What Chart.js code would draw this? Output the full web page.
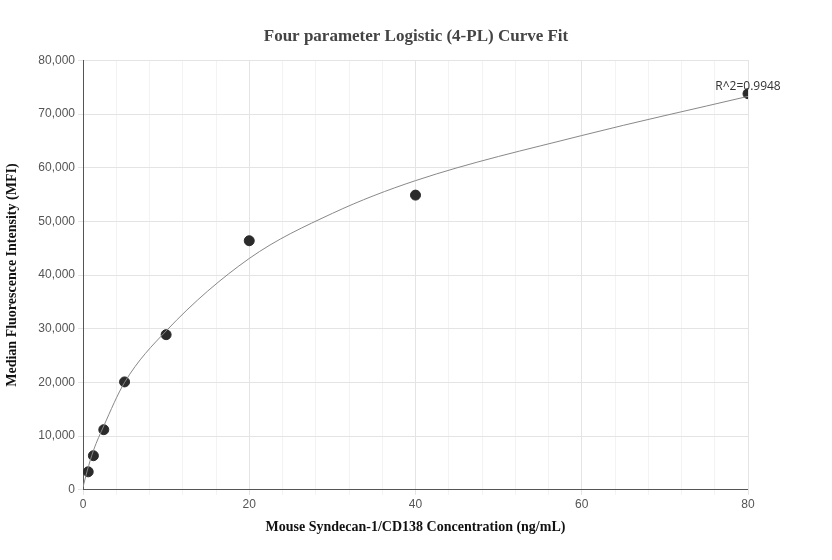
<!DOCTYPE html>
<html>
<head>
<meta charset="utf-8">
<script src="https://cdn.jsdelivr.net/npm/chart.js@4"></script>
<style>
  body { margin: 0; background: #fff; }
  #wrap { width: 832px; height: 560px; }
</style>
</head>
<body>
<div id="wrap"><canvas id="grafico"></canvas></div>
<script>
// pontos medidos
const concentracoes = [0.625, 1.25, 2.5, 5, 10, 20, 40, 80];
const mfi = [3350, 6350, 11200, 20100, 28900, 46400, 54900, 73800];

// curva ajustada
const curvaX = [0, 0.5, 1.25, 2.5, 5, 10, 20, 30, 40, 60, 80];
const curvaY = [500, 3500, 7300, 11900, 20000, 29600, 43100, 51500, 57600, 66000, 73300];

const rQuadrado = "R^2=0.9948";

const pontos = concentracoes.map((x, i) => ({ x, y: mfi[i] }));
const curva = curvaX.map((x, i) => ({ x, y: curvaY[i] }));

// escreve o R^2 perto do último ponto
const textoR2 = {
  id: "textoR2",
  afterDatasetsDraw(chart) {
    const { ctx, scales } = chart;
    const last = pontos[pontos.length - 1];
    ctx.save();
    ctx.font = "12px 'Open Sans', sans-serif";
    ctx.fillStyle = "#333";
    ctx.textAlign = "center";
    ctx.fillText(rQuadrado, scales.x.getPixelForValue(last.x), scales.y.getPixelForValue(last.y) - 4);
    ctx.restore();
  }
};

new Chart(document.getElementById("grafico").getContext("2d"), {
  type: "scatter",
  data: {
    datasets: [
      {
        data: curva,
        showLine: true,
        borderColor: "#888",
        borderWidth: 1,
        pointRadius: 0,
        tension: 0.4,
        cubicInterpolationMode: "monotone"
      },
      {
        data: pontos,
        backgroundColor: "#2b2b2b",
        borderColor: "#2b2b2b",
        pointRadius: 5
      }
    ]
  },
  options: {
    responsive: true,
    maintainAspectRatio: false,
    animation: false,
    layout: { padding: { top: 14, right: 0, left: 0, bottom: 20 } },
    plugins: {
      legend: { display: false },
      tooltip: { enabled: false },
      title: {
        display: true,
        text: "Four parameter Logistic (4-PL) Curve Fit",
        color: "#444",
        font: { family: "'Liberation Serif', serif", size: 17, weight: "bold" },
        padding: { top: 12, bottom: 14 }
      }
    },
    scales: {
      x: {
        type: "linear",
        min: 0,
        max: 80,
        ticks: {
          stepSize: 4,
          color: "#555",
          font: { size: 12 },
          autoSkip: false,
          maxRotation: 0,
          callback: (v) => (v % 20 === 0 ? v : "")
        },
        grid: {
          color: (c) => (c.tick && c.tick.value % 20 === 0 ? "#e4e4e4" : "#f3f3f3"),
          drawTicks: true,
          tickLength: 5
        },
        border: { color: "#555" },
        title: {
          display: true,
          text: "Mouse Syndecan-1/CD138 Concentration (ng/mL)",
          color: "#111",
          font: { family: "'Liberation Serif', serif", size: 14, weight: "bold" }
        }
      },
      y: {
        min: 0,
        max: 80000,
        afterFit: (s) => { s.width = 83; },
        ticks: {
          stepSize: 10000,
          color: "#555",
          font: { size: 12 },
          callback: (v) => v.toLocaleString("en-US")
        },
        grid: { color: "#e4e4e4", tickLength: 5 },
        border: { color: "#555" },
        title: {
          display: true,
          text: "Median Fluorescence Intensity (MFI)",
          color: "#111",
          font: { family: "'Liberation Serif', serif", size: 14, weight: "bold" }
        }
      },
      y2: {
        position: "right",
        min: 0,
        max: 1,
        afterFit: (s) => { s.width = 84; },
        ticks: { display: false },
        grid: { display: false },
        border: { color: "#e4e4e4" }
      }
    }
  },
  plugins: [textoR2]
});
</script>
</body>
</html>
